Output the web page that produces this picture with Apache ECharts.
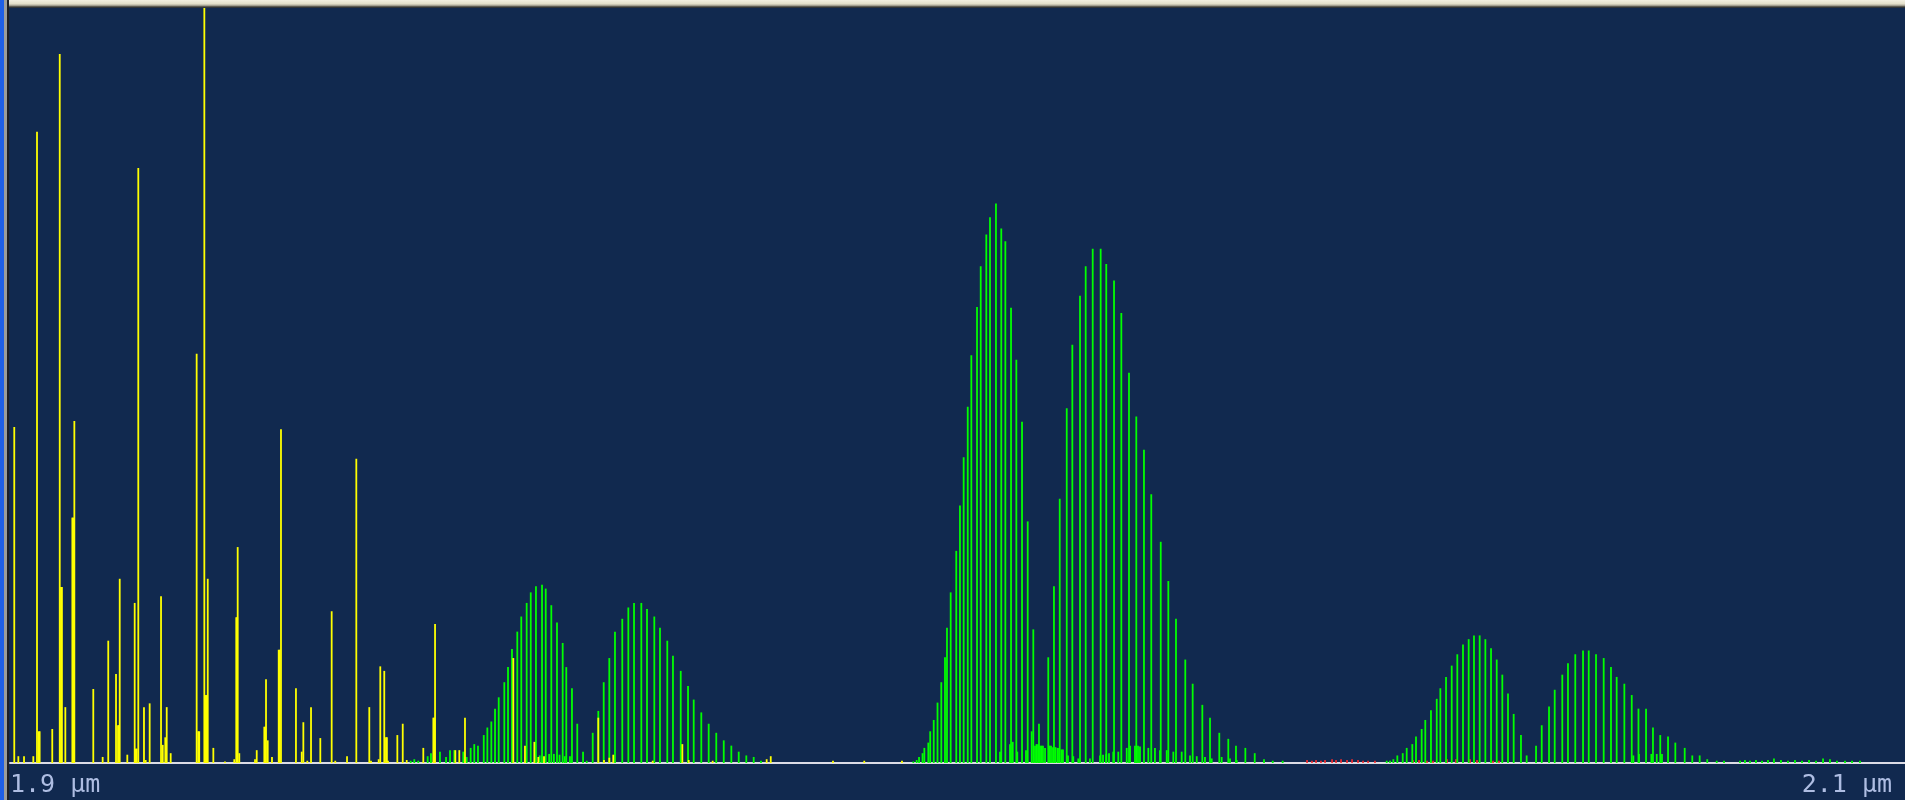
<!DOCTYPE html>
<html>
<head>
<meta charset="utf-8">
<script src="https://cdn.jsdelivr.net/npm/echarts@6/dist/echarts.min.js"></script>
<style>
html,body{margin:0;padding:0;background:#11294f;}
#chart{width:1905px;height:800px;}
</style>
</head>
<body>
<div id="chart"></div>
<script>
// wavelength in nm, relative intensity (0-100)
const axisRangeNm = [1900, 2100];

const yellowLines = [
[1900.45,44.5],[1900.88,0.9],[1901.48,0.9],[1902.46,0.9],[1902.85,83.6],[1903.03,4.2],[1903.13,4.2],
[1904.46,4.5],[1905.25,93.9],[1905.38,23.3],[1905.48,23.3],[1905.84,7.4],[1906.58,32.5],[1906.68,32.5],
[1906.79,45.3],[1908.79,9.8],[1909.78,0.8],[1910.37,16.2],[1911.19,11.8],[1911.40,5.0],[1911.50,5.0],
[1911.58,24.4],[1912.38,1.1],[1913.16,21.2],[1913.27,1.9],[1913.37,1.9],[1913.54,78.8],[1914.14,7.4],
[1914.32,0.4],[1914.74,7.9],[1915.94,22.1],[1916.12,2.4],[1916.39,3.4],[1916.54,7.4],[1916.96,1.3],
[1919.70,54.2],[1919.87,4.2],[1919.97,4.2],[1920.51,100],[1920.65,9.0],[1920.75,9.0],[1920.87,24.4],
[1921.46,2.0],[1922.69,0.2],[1923.67,0.5],[1923.88,19.3],[1923.98,19.3],[1924.03,28.6],[1924.20,1.3],
[1925.86,0.5],[1926.04,1.7],[1926.84,4.8],[1926.94,4.8],[1927.02,11.1],[1927.20,3.0],[1927.65,0.8],
[1928.36,15.0],[1928.46,15.0],[1928.60,44.2],[1930.18,9.9],[1930.79,1.5],[1930.96,5.4],[1931.38,0.3],
[1931.77,7.4],[1932.75,3.3],[1933.95,20.1],[1934.33,0.3],[1935.57,0.9],[1936.55,40.3],[1937.92,7.4],
[1938.10,0.3],[1938.91,0.5],[1939.08,12.8],[1939.50,12.2],[1939.68,3.4],[1939.78,3.4],[1939.89,0.3],
[1940.88,3.7],[1941.45,5.2],[1941.87,0.4],[1943.62,2.0],[1944.68,6.0],[1944.78,6.0],[1944.86,18.4],
[1947.00,1.7],[1947.42,1.7],[1948.02,6.0],[1953.12,13.9],[1954.35,2.3],[1955.34,2.8],[1955.76,0.8],
[1956.36,0.9],[1962.09,6.0],[1962.69,0.4],[1963.25,0.7],[1963.67,1.1],[1967.83,0.3],[1970.96,2.5],
[1971.63,0.4],[1974.16,0.3],[1979.86,0.5],[1980.29,0.9],[1986.86,0.3],[1990.16,0.3],[1994.14,0.3]
];

const greenBandA = [
[1942.29,0.3],[1942.67,0.5],[1943.09,0.3],[1944.08,0.9],[1944.43,1.3],[1945.38,1.5],[1946.02,0.8],
[1946.44,1.7],[1946.89,1.7],[1947.84,1.5],[1948.20,0.8],[1948.62,2.0],[1949.00,2.5],[1949.39,2.3],
[1950.00,3.7],[1950.38,4.7],[1950.80,5.5],[1951.19,7.2],[1951.58,8.7],[1952.17,10.7],[1952.56,12.7],
[1952.98,15.1],[1953.54,17.4],[1953.96,19.4],[1954.53,21.2],[1954.96,22.6],[1955.51,23.4],[1956.15,23.6],
[1956.54,23.1],[1957.13,20.9],[1957.73,18.6],[1958.33,15.9],[1958.71,12.7],[1959.31,9.9],[1959.87,5.2],
[1960.48,1.5],[1960.87,0.3],
[1955.90,1.0],[1956.90,1.2],[1957.40,1.2],[1958.00,1.1],[1958.55,0.9],[1959.10,0.9]
];

const greenBandB = [
[1961.50,4.0],[1962.09,6.9],[1962.66,10.7],[1963.25,13.9],[1963.85,17.4],[1964.62,19.1],[1965.26,20.6],
[1965.86,21.2],[1966.63,21.2],[1967.23,20.4],[1968.00,19.4],[1968.60,17.9],[1969.37,16.2],[1969.97,14.2],
[1970.79,12.2],[1971.56,10.2],[1972.16,8.4],[1972.96,6.7],[1973.74,5.2],[1974.54,4.0],[1975.33,3.0],
[1976.13,2.3],[1976.91,1.5],[1977.71,1.0],[1978.49,0.8],[1979.26,0.3]
];

const greenBandC = [
[1995.34,0.2],[1995.69,0.4],[1995.94,0.8],[1996.31,1.3],[1996.50,2.0],[1996.92,2.7],[1997.12,4.2],
[1997.49,5.7],[1997.89,8.0],[1998.29,10.7],[1998.68,14.0],[1998.89,17.9],[1999.28,22.6],[1999.87,28.1],
[2000.26,34.1],[2000.65,40.5],[2001.08,47.2],[2001.46,54.0],[2002.06,60.4],[2002.45,65.8],[2003.04,70.0],
[2003.43,72.3],[2004.06,74.1],[2004.62,70.8],[2005.05,69.1],[2005.65,60.3],[2006.21,53.4],[2006.81,45.2],
[2007.41,32.0],[2008.00,17.7],[2008.60,5.2]
];

const greenBandD = [
[2009.58,14.0],[2010.18,23.4],[2010.79,35.0],[2011.53,47.0],[2012.12,55.4],[2012.93,61.9],[2013.53,65.8],
[2014.27,68.1],[2015.11,68.1],[2015.70,66.1],[2016.52,63.9],[2017.29,59.6],[2018.10,51.7],[2018.87,45.9],
[2019.68,41.5],[2020.45,35.6],[2021.45,29.3],[2022.25,24.1],[2023.06,19.1],[2024.04,13.7],[2024.82,10.5],
[2025.84,7.7],[2026.65,6.0],[2027.63,4.0],[2028.58,3.2],[2029.39,2.3],[2030.38,2.0],[2031.37,1.3],
[2032.35,0.5],[2033.27,0.3],[2034.32,0.3]
];

const greenWeakCD = [
[2004.49,1.5],[2005.54,2.5],[2005.83,2.8],[2006.31,1.5],[2007.23,1.7],[2007.83,4.2],[2008.18,2.3],
[2008.34,2.5],[2008.50,2.5],[2008.71,2.3],[2008.87,2.3],[2009.02,2.3],[2009.24,2.0],[2009.71,2.3],
[2009.87,2.3],[2010.08,2.1],[2010.34,2.1],[2010.55,2.0],[2010.71,2.0],[2010.98,1.8],[2011.13,1.8],
[2011.66,1.0],[2012.22,0.9],[2012.75,0.6],[2013.98,0.6],[2015.04,1.0],[2015.36,1.1],[2015.70,1.2],
[2015.99,1.3],[2016.44,1.5],[2016.97,1.5],[2017.86,2.0],[2018.21,2.3],[2018.73,2.3],[2019.05,2.3],
[2019.26,2.2],[2020.14,2.0],[2020.84,2.0],[2021.37,1.7],[2022.08,1.7],[2022.78,1.5],[2023.66,1.5],
[2024.54,1.0],[2025.25,0.9],[2026.12,0.8],[2026.83,0.6],[2027.88,0.8],[2028.76,0.6],[2029.47,0.4]
];

const greenBandE = [
[2045.30,0.3],[2045.65,0.3],[2046.00,0.5],[2046.42,1.0],[2046.99,1.3],[2047.41,2.0],[2048.00,2.5],
[2048.39,3.5],[2048.99,4.5],[2049.37,5.7],[2049.97,7.0],[2050.58,8.5],[2050.96,9.9],[2051.56,11.4],
[2052.16,12.9],[2052.75,14.4],[2053.35,15.7],[2053.95,16.4],[2054.51,16.9],[2055.11,16.9],[2055.71,16.4],
[2056.31,15.2],[2056.91,13.7],[2057.50,11.7],[2058.10,9.2],[2058.70,6.5],[2059.47,3.7],[2060.07,1.0]
];

const greenBandF = [
[2061.06,2.3],[2061.66,5.0],[2062.43,7.5],[2063.03,9.7],[2063.83,11.7],[2064.43,13.2],[2065.20,14.4],
[2066.02,14.9],[2066.62,14.9],[2067.39,14.4],[2068.20,13.9],[2068.97,12.7],[2069.57,11.4],[2070.38,10.5],
[2071.16,9.0],[2071.87,7.2],[2072.67,7.2],[2073.40,4.7],[2074.17,3.7],[2074.99,3.5],[2075.76,2.7],
[2076.75,2.0],[2077.55,1.0],[2078.33,1.0],[2079.13,0.5],[2080.13,0.3],[2080.90,0.3],
[2071.33,1.0],[2071.93,1.2],[2073.23,1.2],[2073.80,1.2],[2074.35,1.2]
];

const greenTail = [
[2082.59,0.3],[2083.11,0.4],[2083.64,0.3],[2084.27,0.4],[2084.91,0.3],[2085.54,0.4],[2086.17,0.6],
[2086.91,0.4],[2087.65,0.3],[2088.39,0.4],[2089.13,0.3],[2089.87,0.4],[2090.61,0.3],[2091.35,0.6],
[2092.08,0.5],[2092.82,0.3],[2093.67,0.3],[2094.41,0.3],[2095.25,0.3]
];

const redLines = [
[2036.89,0.4],[2037.41,0.3],[2037.84,0.4],[2038.36,0.3],[2038.79,0.4],[2039.53,0.5],[2039.95,0.4],
[2040.48,0.5],[2041.11,0.4],[2041.64,0.5],[2042.27,0.4],[2042.80,0.3],[2043.33,0.3],[2044.06,0.3],
[2048.07,0.4],[2048.71,0.4],[2049.55,0.3],[2050.19,0.3],[2051.66,0.5],[2052.61,0.5],[2054.09,0.5],
[2054.83,0.4],[2056.52,0.3],[2057.15,0.3]
];

const greenLines = [].concat(greenBandA, greenBandB, greenWeakCD, greenBandC, greenBandD,
                             greenBandE, greenBandF, greenTail);

function stickSeries(name, data, color, width) {
  return {
    name: name,
    type: 'custom',
    data: data,
    encode: {x: 0, y: 1},
    renderItem: function (params, api) {
      const p0 = api.coord([api.value(0), 0]);
      const p1 = api.coord([api.value(0), api.value(1)]);
      return {
        type: 'line',
        shape: {x1: p0[0], y1: p0[1], x2: p1[0], y2: p1[1]},
        style: {stroke: color, lineWidth: width}
      };
    }
  };
}

const chart = echarts.init(document.getElementById('chart'), null, {renderer: 'canvas'});
chart.setOption({
  backgroundColor: '#11294f',
  animation: false,
  grid: {left: 10, right: 0, top: 8, bottom: 37},
  xAxis: {
    type: 'value',
    min: axisRangeNm[0], max: axisRangeNm[1], interval: 200,
    axisLine: {show: true, lineStyle: {color: '#dcdce6', width: 2}},
    axisTick: {show: false},
    splitLine: {show: false},
    axisLabel: {
      formatter: function (v) { return (v / 1000).toFixed(1) + ' \u00b5m'; },
      color: '#aebde2',
      fontFamily: 'DejaVu Sans Mono',
      fontSize: 25,
      margin: 10,
      alignMinLabel: 'left',
      alignMaxLabel: 'right',
      padding: [0, 13, 0, 0]
    }
  },
  yAxis: {type: 'value', min: 0, max: 100, show: false},
  series: [
    stickSeries('red', redLines, '#ff2a2a', 1.6),
    stickSeries('green', greenLines, '#00ff00', 1.8),
    stickSeries('yellow', yellowLines, '#ffff00', 1.8)
  ],
  graphic: [
    {type: 'rect', z: 100, shape: {x: 0, y: 0, width: 1905, height: 8},
     style: {fill: new echarts.graphic.LinearGradient(0, 0, 0, 1, [
       {offset: 0, color: '#f3f0e2'}, {offset: 0.45, color: '#e4e0cc'},
       {offset: 0.65, color: '#b9b5a4'}, {offset: 0.82, color: '#5a5850'},
       {offset: 1, color: '#18202e'}])}},
    {type: 'rect', z: 101, shape: {x: 0, y: 0, width: 4, height: 800}, style: {fill: '#1f5fe6'}},
    {type: 'rect', z: 101, shape: {x: 4, y: 0, width: 3, height: 800}, style: {fill: '#9c9c9a'}},
    {type: 'rect', z: 101, shape: {x: 7, y: 0, width: 2, height: 800}, style: {fill: '#1c1e26'}}
  ]
});
</script>
</body>
</html>
